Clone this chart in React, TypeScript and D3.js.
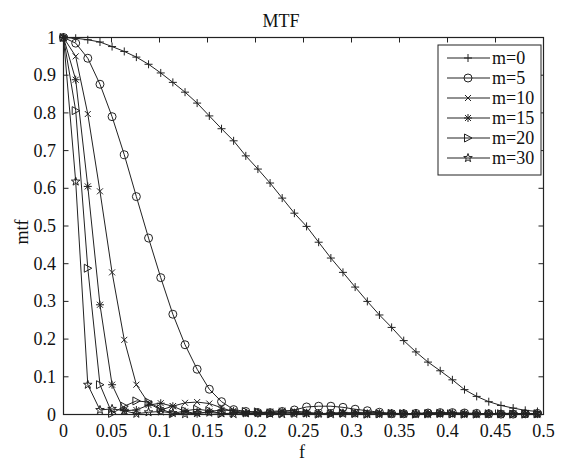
import React from "react";
import * as d3 from "d3";

const freq = [0, 0.0127, 0.0253, 0.038, 0.0506, 0.0633, 0.0759, 0.0886, 0.1013, 0.1139, 0.1266, 0.1392, 0.1519, 0.1646, 0.1772, 0.1899, 0.2025, 0.2152, 0.2278, 0.2405, 0.2532, 0.2658, 0.2785, 0.2911, 0.3038, 0.3165, 0.3291, 0.3418, 0.3544, 0.3671, 0.3797, 0.3924, 0.4051, 0.4177, 0.4304, 0.443, 0.4557, 0.4684, 0.481, 0.4937];

const m0 = [1.0, 0.998, 0.994, 0.988, 0.976, 0.963, 0.948, 0.929, 0.906, 0.881, 0.855, 0.826, 0.792, 0.758, 0.726, 0.686, 0.651, 0.614, 0.574, 0.534, 0.499, 0.457, 0.415, 0.377, 0.338, 0.3, 0.264, 0.231, 0.196, 0.166, 0.139, 0.116, 0.092, 0.066, 0.048, 0.034, 0.024, 0.017, 0.011, 0.008];
const m5 = [1.0, 0.985, 0.945, 0.876, 0.79, 0.689, 0.578, 0.468, 0.363, 0.266, 0.185, 0.12, 0.067, 0.034, 0.013, 0.008, 0.005, 0.005, 0.008, 0.012, 0.02, 0.022, 0.022, 0.019, 0.014, 0.01, 0.006, 0.002, 0.002, 0.003, 0.004, 0.005, 0.005, 0.004, 0.003, 0.002, 0.001, 0.001, 0.002, 0.003];
const m10 = [1.0, 0.95, 0.797, 0.592, 0.377, 0.198, 0.079, 0.03, 0.012, 0.022, 0.031, 0.033, 0.029, 0.018, 0.007, 0.002, 0.004, 0.008, 0.01, 0.009, 0.006, 0.003, 0.001, 0.003, 0.005, 0.006, 0.005, 0.003, 0.001, 0.002, 0.004, 0.004, 0.003, 0.002, 0.001, 0.002, 0.003, 0.003, 0.002, 0.001];
const m15 = [1.0, 0.888, 0.605, 0.291, 0.079, 0.01, 0.012, 0.025, 0.03, 0.022, 0.008, 0.002, 0.008, 0.012, 0.01, 0.004, 0.002, 0.005, 0.007, 0.005, 0.002, 0.002, 0.004, 0.005, 0.003, 0.001, 0.002, 0.003, 0.003, 0.002, 0.001, 0.002, 0.003, 0.002, 0.001, 0.001, 0.002, 0.002, 0.001, 0.001];
const m20 = [1.0, 0.806, 0.388, 0.079, 0.003, 0.022, 0.036, 0.033, 0.015, 0.002, 0.01, 0.014, 0.01, 0.002, 0.004, 0.008, 0.007, 0.002, 0.003, 0.005, 0.004, 0.001, 0.002, 0.004, 0.003, 0.001, 0.002, 0.003, 0.002, 0.001, 0.002, 0.003, 0.002, 0.001, 0.001, 0.002, 0.002, 0.001, 0.001, 0.002];
const m30 = [1.0, 0.618, 0.079, 0.012, 0.015, 0.01, 0.002, 0.006, 0.008, 0.004, 0.001, 0.004, 0.005, 0.003, 0.001, 0.003, 0.004, 0.002, 0.001, 0.002, 0.003, 0.002, 0.001, 0.002, 0.002, 0.001, 0.001, 0.002, 0.002, 0.001, 0.001, 0.002, 0.001, 0.001, 0.001, 0.002, 0.001, 0.001, 0.001, 0.001];

const seriesNames = ["m=0", "m=5", "m=10", "m=15", "m=20", "m=30"];
const seriesValues = [m0, m5, m10, m15, m20, m30];
const markerTypes = ["plus", "circle", "x", "asterisk", "triangle", "star"];

const xTicks = [0, 0.05, 0.1, 0.15, 0.2, 0.25, 0.3, 0.35, 0.4, 0.45, 0.5];
const yTicks = [0, 0.1, 0.2, 0.3, 0.4, 0.5, 0.6, 0.7, 0.8, 0.9, 1];

const W = 565, H = 461;
const L = 63.5, R = 543.5, T = 37.5, B = 414.5;
const INK = "#222";
const FONT = "'Liberation Serif', 'Times New Roman', serif";

function starPath(r: number) {
  const pts: string[] = [];
  for (let i = 0; i < 10; i++) {
    const a = -Math.PI / 2 + (i * Math.PI) / 5;
    const rr = i % 2 === 0 ? r : r * 0.4;
    pts.push(`${(rr * Math.cos(a)).toFixed(2)},${(rr * Math.sin(a)).toFixed(2)}`);
  }
  return "M" + pts.join("L") + "Z";
}

function Marker({ type, x, y }: { type: string; x: number; y: number }) {
  const common = { fill: "none", stroke: INK, strokeWidth: 1 };
  let d = "";
  if (type === "plus") d = "M-4,0H4M0,-4V4";
  else if (type === "x") d = "M-3,-3L3,3M-3,3L3,-3";
  else if (type === "asterisk") d = "M-4,0H4M0,-4V4M-3,-3L3,3M-3,3L3,-3";
  else if (type === "triangle") d = "M4,0L-3.5,-4L-3.5,4Z";
  else if (type === "star") d = starPath(4.5);
  if (type === "circle") return <circle cx={x} cy={y} r={4} {...common} />;
  return <path d={d} transform={`translate(${x},${y})`} {...common} />;
}

export default function App() {
  const x = d3.scaleLinear().domain([0, 0.5]).range([L, R]);
  const y = d3.scaleLinear().domain([0, 1]).range([B, T]);
  const line = d3
    .line<number>()
    .x((_, i) => x(freq[i]))
    .y((d) => y(d));

  const legX = 438, legY = 45, legW = 103, legH = 130;
  const rowY = [58, 78, 98, 118, 138, 158];

  return (
    <svg width={W} height={H} style={{ position: "absolute", left: 0, top: 0, background: "#fff" }} fontFamily={FONT}>
      <rect x={0} y={0} width={W} height={H} fill="#fff" />
      {/* curves */}
      {seriesValues.map((vals, si) => (
        <g key={si}>
          <path d={line(vals) || ""} fill="none" stroke={INK} strokeWidth={1} />
          {vals.map((v, i) => (
            <Marker key={i} type={markerTypes[si]} x={x(freq[i])} y={y(v)} />
          ))}
        </g>
      ))}
      {/* axes box */}
      <rect x={L} y={T} width={R - L} height={B - T} fill="none" stroke={INK} strokeWidth={1.2} />
      {xTicks.map((t) => (
        <g key={"x" + t}>
          <line x1={x(t)} x2={x(t)} y1={B} y2={B - 5} stroke={INK} />
          <line x1={x(t)} x2={x(t)} y1={T} y2={T + 5} stroke={INK} />
          <text x={x(t)} y={437} textAnchor="middle" fontSize={18} fill="#111">
            {String(t)}
          </text>
        </g>
      ))}
      {yTicks.map((t) => (
        <g key={"y" + t}>
          <line x1={L} x2={L + 5} y1={y(t)} y2={y(t)} stroke={INK} />
          <line x1={R} x2={R - 5} y1={y(t)} y2={y(t)} stroke={INK} />
          <text x={56} y={y(t) + 6} textAnchor="end" fontSize={18} fill="#111">
            {String(t)}
          </text>
        </g>
      ))}
      {/* legend */}
      <rect x={legX} y={legY} width={legW} height={legH} fill="#fff" stroke={INK} strokeWidth={1} />
      {seriesNames.map((n, i) => (
        <g key={n}>
          <line x1={447} x2={490} y1={rowY[i]} y2={rowY[i]} stroke={INK} />
          <Marker type={markerTypes[i]} x={468} y={rowY[i]} />
          <text x={492} y={rowY[i] + 6} fontSize={18} fill="#111">
            {n}
          </text>
        </g>
      ))}
      {/* titles */}
      <text x={281} y={27} textAnchor="middle" fontSize={18} fill="#111">MTF</text>
      <text x={302} y={458} textAnchor="middle" fontSize={18} fill="#111">f</text>
      <text transform="translate(28,232) rotate(-90)" textAnchor="middle" fontSize={18} fill="#111">mtf</text>
    </svg>
  );
}
